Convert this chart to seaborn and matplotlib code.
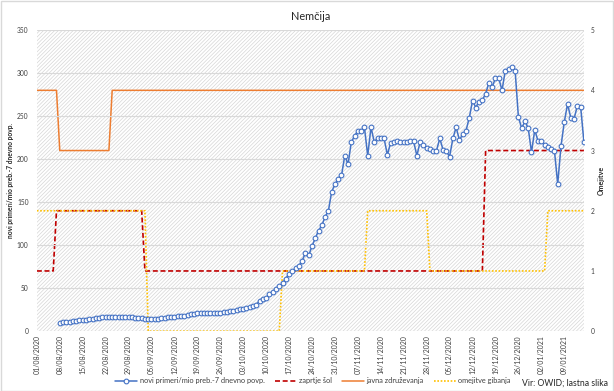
import matplotlib
matplotlib.use("Agg")
import matplotlib.pyplot as plt
import matplotlib.dates as mdates
from matplotlib.patches import Rectangle
import pandas as pd
import seaborn as sns

# daily new cases per million, 7-day average (08/08/2020 - 15/01/2021)
cases_start = "2020-08-08"
cases = [
    10.0, 10.3, 10.6, 11.0, 11.5, 12.0, 12.5, 13.0, 13.4, 13.9,
    14.4, 14.9, 15.4, 15.9, 16.3, 16.5, 16.6, 16.7, 16.6, 16.5,
    16.4, 16.2, 16.0, 15.7, 15.4, 15.0, 14.6, 14.3, 14.2, 14.3,
    14.6, 15.0, 15.5, 16.0, 16.5, 16.9, 17.2, 17.6, 18.1, 18.8,
    19.6, 20.3, 20.8, 21.2, 21.4, 21.4, 21.3, 21.2, 21.3, 21.6,
    22.0, 22.6, 23.3, 24.0, 24.6, 25.2, 26.0, 27.0, 28, 29,
    31, 35, 37, 39, 43, 46, 49, 52, 56, 61,
    67, 70, 73, 76, 82, 91, 88, 99, 108, 117,
    123, 133, 140, 162, 171, 177, 181, 204, 194, 220,
    227, 233, 233, 237, 204, 237, 220, 224, 224, 224,
    205, 219, 220, 221, 220, 220, 220, 221, 221, 204,
    220, 216, 213, 212, 210, 210, 224, 211, 209, 203,
    224, 237, 222, 229, 233, 248, 268, 260, 267, 269,
    276, 289, 284, 294, 294, 280, 303, 305, 307, 303,
    249, 236, 244, 236, 208, 234, 221, 221, 217, 214,
    212, 210, 171, 215, 243, 264, 248, 247, 262, 261,
    220,
]

# restriction levels (corner points of the step lines)
schools_dates = ["2020-08-01", "2020-08-06", "2020-08-07", "2020-09-02",
                 "2020-09-03", "2020-12-15", "2020-12-16", "2021-01-15"]
schools_levels = [1, 1, 2, 2, 1, 1, 3, 3]

gatherings_dates = ["2020-08-01", "2020-08-07", "2020-08-08", "2020-08-23",
                    "2020-08-24", "2021-01-15"]
gatherings_levels = [4, 4, 3, 3, 4, 4]

movement_dates = ["2020-08-01", "2020-09-03", "2020-09-04", "2020-10-14",
                  "2020-10-15", "2020-11-09", "2020-11-10", "2020-11-28",
                  "2020-11-29", "2021-01-03", "2021-01-04", "2021-01-15"]
movement_levels = [2, 2, 0, 0, 1, 1, 2, 2, 1, 1, 2, 2]

labels = ["novi primeri/mio preb.-7 dnevno povp.", "zaprtje šol",
          "javna združevanja", "omejitve gibanja"]
colors = ["#4472C4", "#C00000", "#ED7D31", "#FFC000"]

sns.set_theme(style="white")
plt.rcParams["font.family"] = ["Lato", "DejaVu Sans"]
plt.rcParams["hatch.linewidth"] = 0.5

df_cases = pd.DataFrame({
    "date": pd.date_range(cases_start, periods=len(cases), freq="D"),
    "value": cases,
})
df_schools = pd.DataFrame({"date": pd.to_datetime(schools_dates), "value": schools_levels})
df_gath = pd.DataFrame({"date": pd.to_datetime(gatherings_dates), "value": gatherings_levels})
df_move = pd.DataFrame({"date": pd.to_datetime(movement_dates), "value": movement_levels})

fig = plt.figure(figsize=(6.14, 3.91), dpi=100)
ax = fig.add_subplot(111)
fig.subplots_adjust(left=0.060, right=0.951, top=0.923, bottom=0.153)
ax2 = ax.twinx()
ax.set_zorder(2)
ax2.set_zorder(1)
ax.patch.set_visible(False)

# hatched plot background
ax2.add_patch(Rectangle((0, 0), 1, 1, transform=ax2.transAxes, facecolor="white",
                        edgecolor="#d6d6d6", hatch="/" * 9, lw=0, zorder=0))

sns.lineplot(data=df_schools, x="date", y="value", ax=ax2, color=colors[1],
             lw=1.2, linestyle=(0, (3, 1.6)), label=labels[1], legend=False)
sns.lineplot(data=df_gath, x="date", y="value", ax=ax2, color=colors[2],
             lw=1.1, label=labels[2], legend=False)
sns.lineplot(data=df_move, x="date", y="value", ax=ax2, color=colors[3],
             lw=1.2, linestyle=(0, (1, 1)), label=labels[3], legend=False)

sns.lineplot(data=df_cases, x="date", y="value", ax=ax, color=colors[0],
             lw=1.1, marker="o", markersize=3.4, markerfacecolor="white",
             markeredgecolor=colors[0], markeredgewidth=0.8,
             label=labels[0], legend=False)

xmin, xmax = pd.Timestamp("2020-08-01"), pd.Timestamp("2021-01-15")
ax.set_xlim(xmin, xmax)
ax.set_ylim(0, 350)
ax2.set_ylim(0, 5)
ax.set_yticks(range(0, 351, 50))
ax2.set_yticks(range(0, 6))
ax.set_xticks(pd.date_range(xmin, xmax, freq="7D"))
ax.xaxis.set_major_formatter(mdates.DateFormatter("%d/%m/%Y"))
ax.tick_params(axis="x", labelrotation=90, labelsize=5.0, length=0, pad=3,
               colors="#404040")
ax.tick_params(axis="y", labelsize=4.8, length=0, pad=6, colors="#404040")
ax2.tick_params(axis="y", labelsize=4.8, length=0, pad=5, colors="#404040")
ax.grid(axis="y", color="#d9d9d9", lw=0.8)
ax.grid(axis="x", visible=False)
ax2.grid(False)
for a in (ax, ax2):
    for s in a.spines.values():
        s.set_visible(False)

ax.set_xlabel("")
ax.set_ylabel("novi primeri/mio preb.-7 dnevno povp.", fontsize=4.8,
              fontweight="bold", color="#262626")
ax.yaxis.set_label_coords(-0.042, 0.5)
ax2.set_ylabel("Omejitve", fontsize=5, fontweight="bold", color="#262626")
ax2.yaxis.set_label_coords(1.026, 0.5)

ax.set_title("Nemčija", fontsize=7.8, color="#262626", pad=7)

handles = ax.get_lines()[:1] + ax2.get_lines()
fig.legend(handles, labels, loc="center", bbox_to_anchor=(0.51, 0.026), ncol=4,
           frameon=False, fontsize=5.3, handlelength=2.9, columnspacing=1.4,
           handletextpad=0.4, labelcolor="#404040")
fig.text(0.99, 0.02, "Vir: OWID; lastna slika", ha="right", va="center",
         fontsize=6.2, color="#262626")

fig.patches.append(Rectangle((0.001, 0.001), 0.997, 0.996, transform=fig.transFigure,
                             fill=False, edgecolor="#d9d9d9", lw=1))

plt.savefig("out.png", dpi=100)
plt.close()
